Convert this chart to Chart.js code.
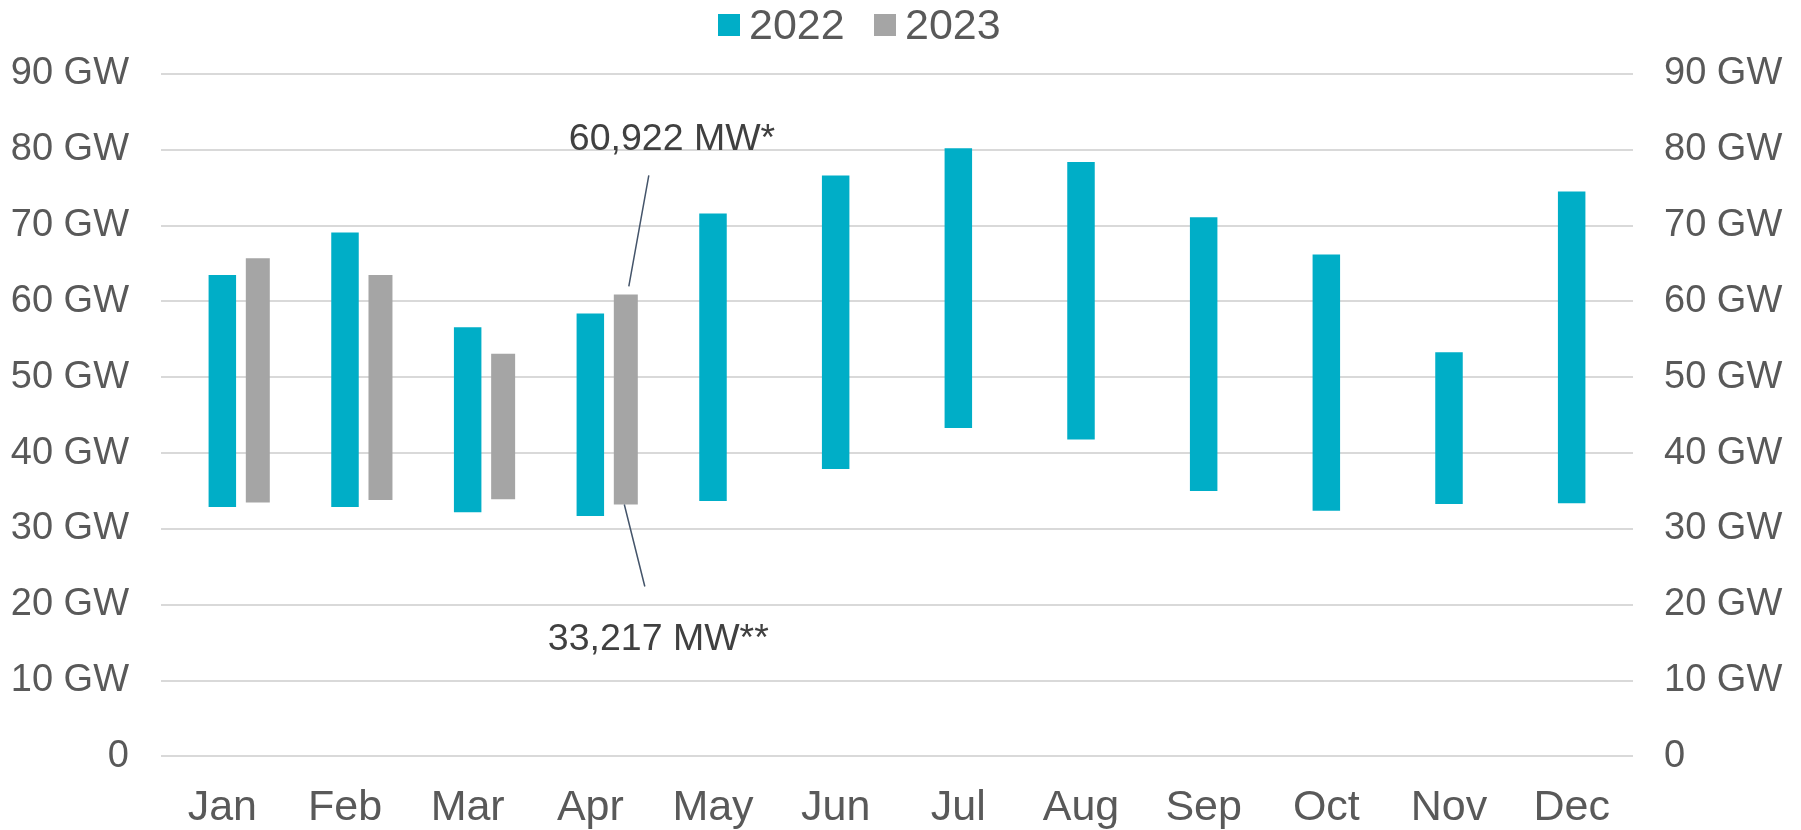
<!DOCTYPE html>
<html>
<head>
<meta charset="utf-8">
<script src="https://cdn.jsdelivr.net/npm/chart.js@4/dist/chart.umd.min.js"></script>
<style>
  html, body { margin: 0; padding: 0; background: #fff; }
  #wrap { width: 1801px; height: 830px; position: relative; }
</style>
</head>
<body>
<div id="wrap"><canvas id="peakChart"></canvas></div>
<script>
const months = ["Jan", "Feb", "Mar", "Apr", "May", "Jun", "Jul", "Aug", "Sep", "Oct", "Nov", "Dec"];
// monthly min / max load in GW
const low2022 = [32.9, 32.9, 32.2, 31.7, 33.7, 37.9, 43.3, 41.8, 35.0, 32.4, 33.3, 33.4];
const high2022 = [63.5, 69.1, 56.6, 58.4, 71.6, 76.6, 80.2, 78.4, 71.1, 66.2, 53.3, 74.5];
const low2023 = [33.5, 33.8, 33.9, 33.217];
const high2023 = [65.7, 63.5, 53.1, 60.922];
const yTicks = [0, 10, 20, 30, 40, 50, 60, 70, 80, 90];

const FONT = "'Liberation Sans', Arial, sans-serif";
const BLUE = "#00AEC7";
const GRAY = "#A5A5A5";
const TICK = "#595959";

const ranges2022 = low2022.map((v, i) => [v, high2022[i]]);
const ranges2023 = low2023.map((v, i) => [v, high2023[i]]);

const tickLabel = (v) => v === 0 ? "0" : v + " GW";

// legend + the two callouts on the April 2023 bar
const notesPlugin = {
  id: "notes",
  afterDraw(chart) {
    const { ctx } = chart;
    ctx.save();

    // legend
    ctx.font = "43px " + FONT;
    ctx.textBaseline = "alphabetic";
    const items = [chart.data.datasets[1], chart.data.datasets[2]];
    let x = 718;
    items.forEach((ds) => {
      ctx.fillStyle = ds.backgroundColor;
      ctx.fillRect(x, 14, 22, 22);
      ctx.fillStyle = TICK;
      ctx.fillText(ds.label, x + 31, 39);
      x += 156;
    });

    // callouts
    const bar = chart.getDatasetMeta(2).data[3];
    ctx.strokeStyle = "#44546A";
    ctx.lineWidth = 1.5;
    ctx.beginPath();
    ctx.moveTo(bar.x + 3, bar.y - 8);
    ctx.lineTo(bar.x + 23, bar.y - 119);
    ctx.moveTo(bar.x - 1.5, bar.base);
    ctx.lineTo(bar.x + 19, bar.base + 82);
    ctx.stroke();

    ctx.font = "37.5px " + FONT;
    ctx.fillStyle = "#404040";
    ctx.textAlign = "left";
    ctx.fillText("60,922 MW*", bar.x - 57, bar.y - 144);
    ctx.fillText("33,217 MW**", bar.x - 78, bar.base + 145);
    ctx.restore();
  }
};

new Chart(document.getElementById("peakChart"), {
  type: "bar",
  data: {
    labels: months,
    datasets: [
      { label: "spacer", data: [], backgroundColor: "rgba(0,0,0,0)" },
      { label: "2022", data: ranges2022, backgroundColor: BLUE, barPercentage: 0.775 },
      { label: "2023", data: ranges2023, backgroundColor: GRAY, barPercentage: 0.676 }
    ]
  },
  options: {
    responsive: true,
    maintainAspectRatio: false,
    animation: false,
    categoryPercentage: 0.8676,
    layout: { padding: { top: 74, left: 0, right: 0, bottom: 0 } },
    plugins: {
      legend: { display: false },
      tooltip: { enabled: true }
    },
    scales: {
      x: {
        grid: { display: false, drawTicks: false },
        border: { display: false },
        ticks: { color: TICK, font: { family: FONT, size: 43 }, padding: 26 },
        afterFit: (s) => { s.height = 73.6; }
      },
      y: {
        position: "left",
        min: 0,
        max: 90,
        afterBuildTicks: (s) => { s.ticks = yTicks.map((v) => ({ value: v })); },
        grid: { color: "#D9D9D9", lineWidth: 2, drawTicks: false },
        border: { display: false },
        ticks: { color: TICK, font: { family: FONT, size: 38 }, padding: 32, callback: tickLabel },
        afterFit: (s) => { s.width = 161; }
      },
      y2: {
        position: "right",
        min: 0,
        max: 90,
        afterBuildTicks: (s) => { s.ticks = yTicks.map((v) => ({ value: v })); },
        grid: { display: false, drawTicks: false },
        border: { display: false },
        ticks: { color: TICK, font: { family: FONT, size: 38 }, padding: 31, callback: tickLabel },
        afterFit: (s) => { s.width = 168; }
      }
    }
  },
  plugins: [notesPlugin]
});
</script>
</body>
</html>
